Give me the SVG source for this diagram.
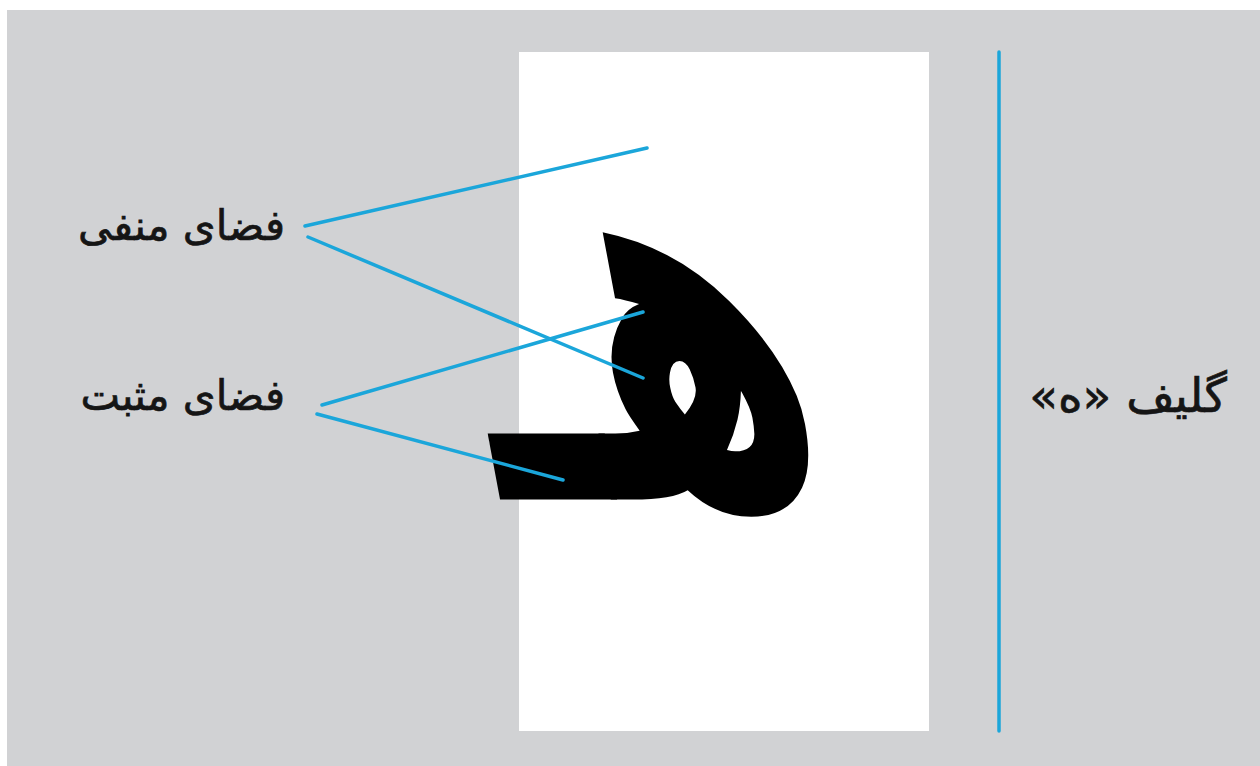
<svg xmlns="http://www.w3.org/2000/svg" width="1260" height="766" viewBox="0 0 1260 766">
<style>
.lbl{font-family:"DejaVu Sans","Noto Sans",sans-serif;font-size:42px;fill:#151515;stroke:#151515;stroke-width:0.7;direction:rtl;text-anchor:start}
.big{font-size:47px}
.conn{stroke:#1ba6da;stroke-width:3.5;stroke-linecap:round;fill:none}
</style>
<rect x="0" y="0" width="1260" height="766" fill="#ffffff"/>
<rect x="7" y="10" width="1253" height="756" fill="#d1d2d4"/>
<g id="page">
<rect x="519" y="52" width="410" height="679" fill="#ffffff"/>
</g>
<g id="glyph" transform="translate(-8,0) translate(0,500) skewX(10.6) translate(0,-500)">
<text transform="translate(-23,-345.3) scale(1.08,1.76)" x="650" y="480" font-family="DejaVu Sans" font-weight="bold" font-size="300" text-anchor="middle" fill="#000">هـ</text>
</g>
<g id="label-negative"><text class="lbl" x="285" y="240">فضای منفی</text></g>
<g id="label-positive"><text class="lbl" x="285" y="410">فضای مثبت</text></g>
<g id="label-glyph"><text class="lbl big" x="1227" y="412">گلیف «ه»</text></g>
<g id="connectors">
<line class="conn" x1="305" y1="226" x2="647" y2="148"/>
<line class="conn" x1="308" y1="237" x2="643" y2="378"/>
<line class="conn" x1="322" y1="405" x2="643" y2="312"/>
<line class="conn" x1="317" y1="414" x2="563" y2="480"/>
<line class="conn" x1="999" y1="52" x2="999" y2="731"/>
</g>
</svg>
